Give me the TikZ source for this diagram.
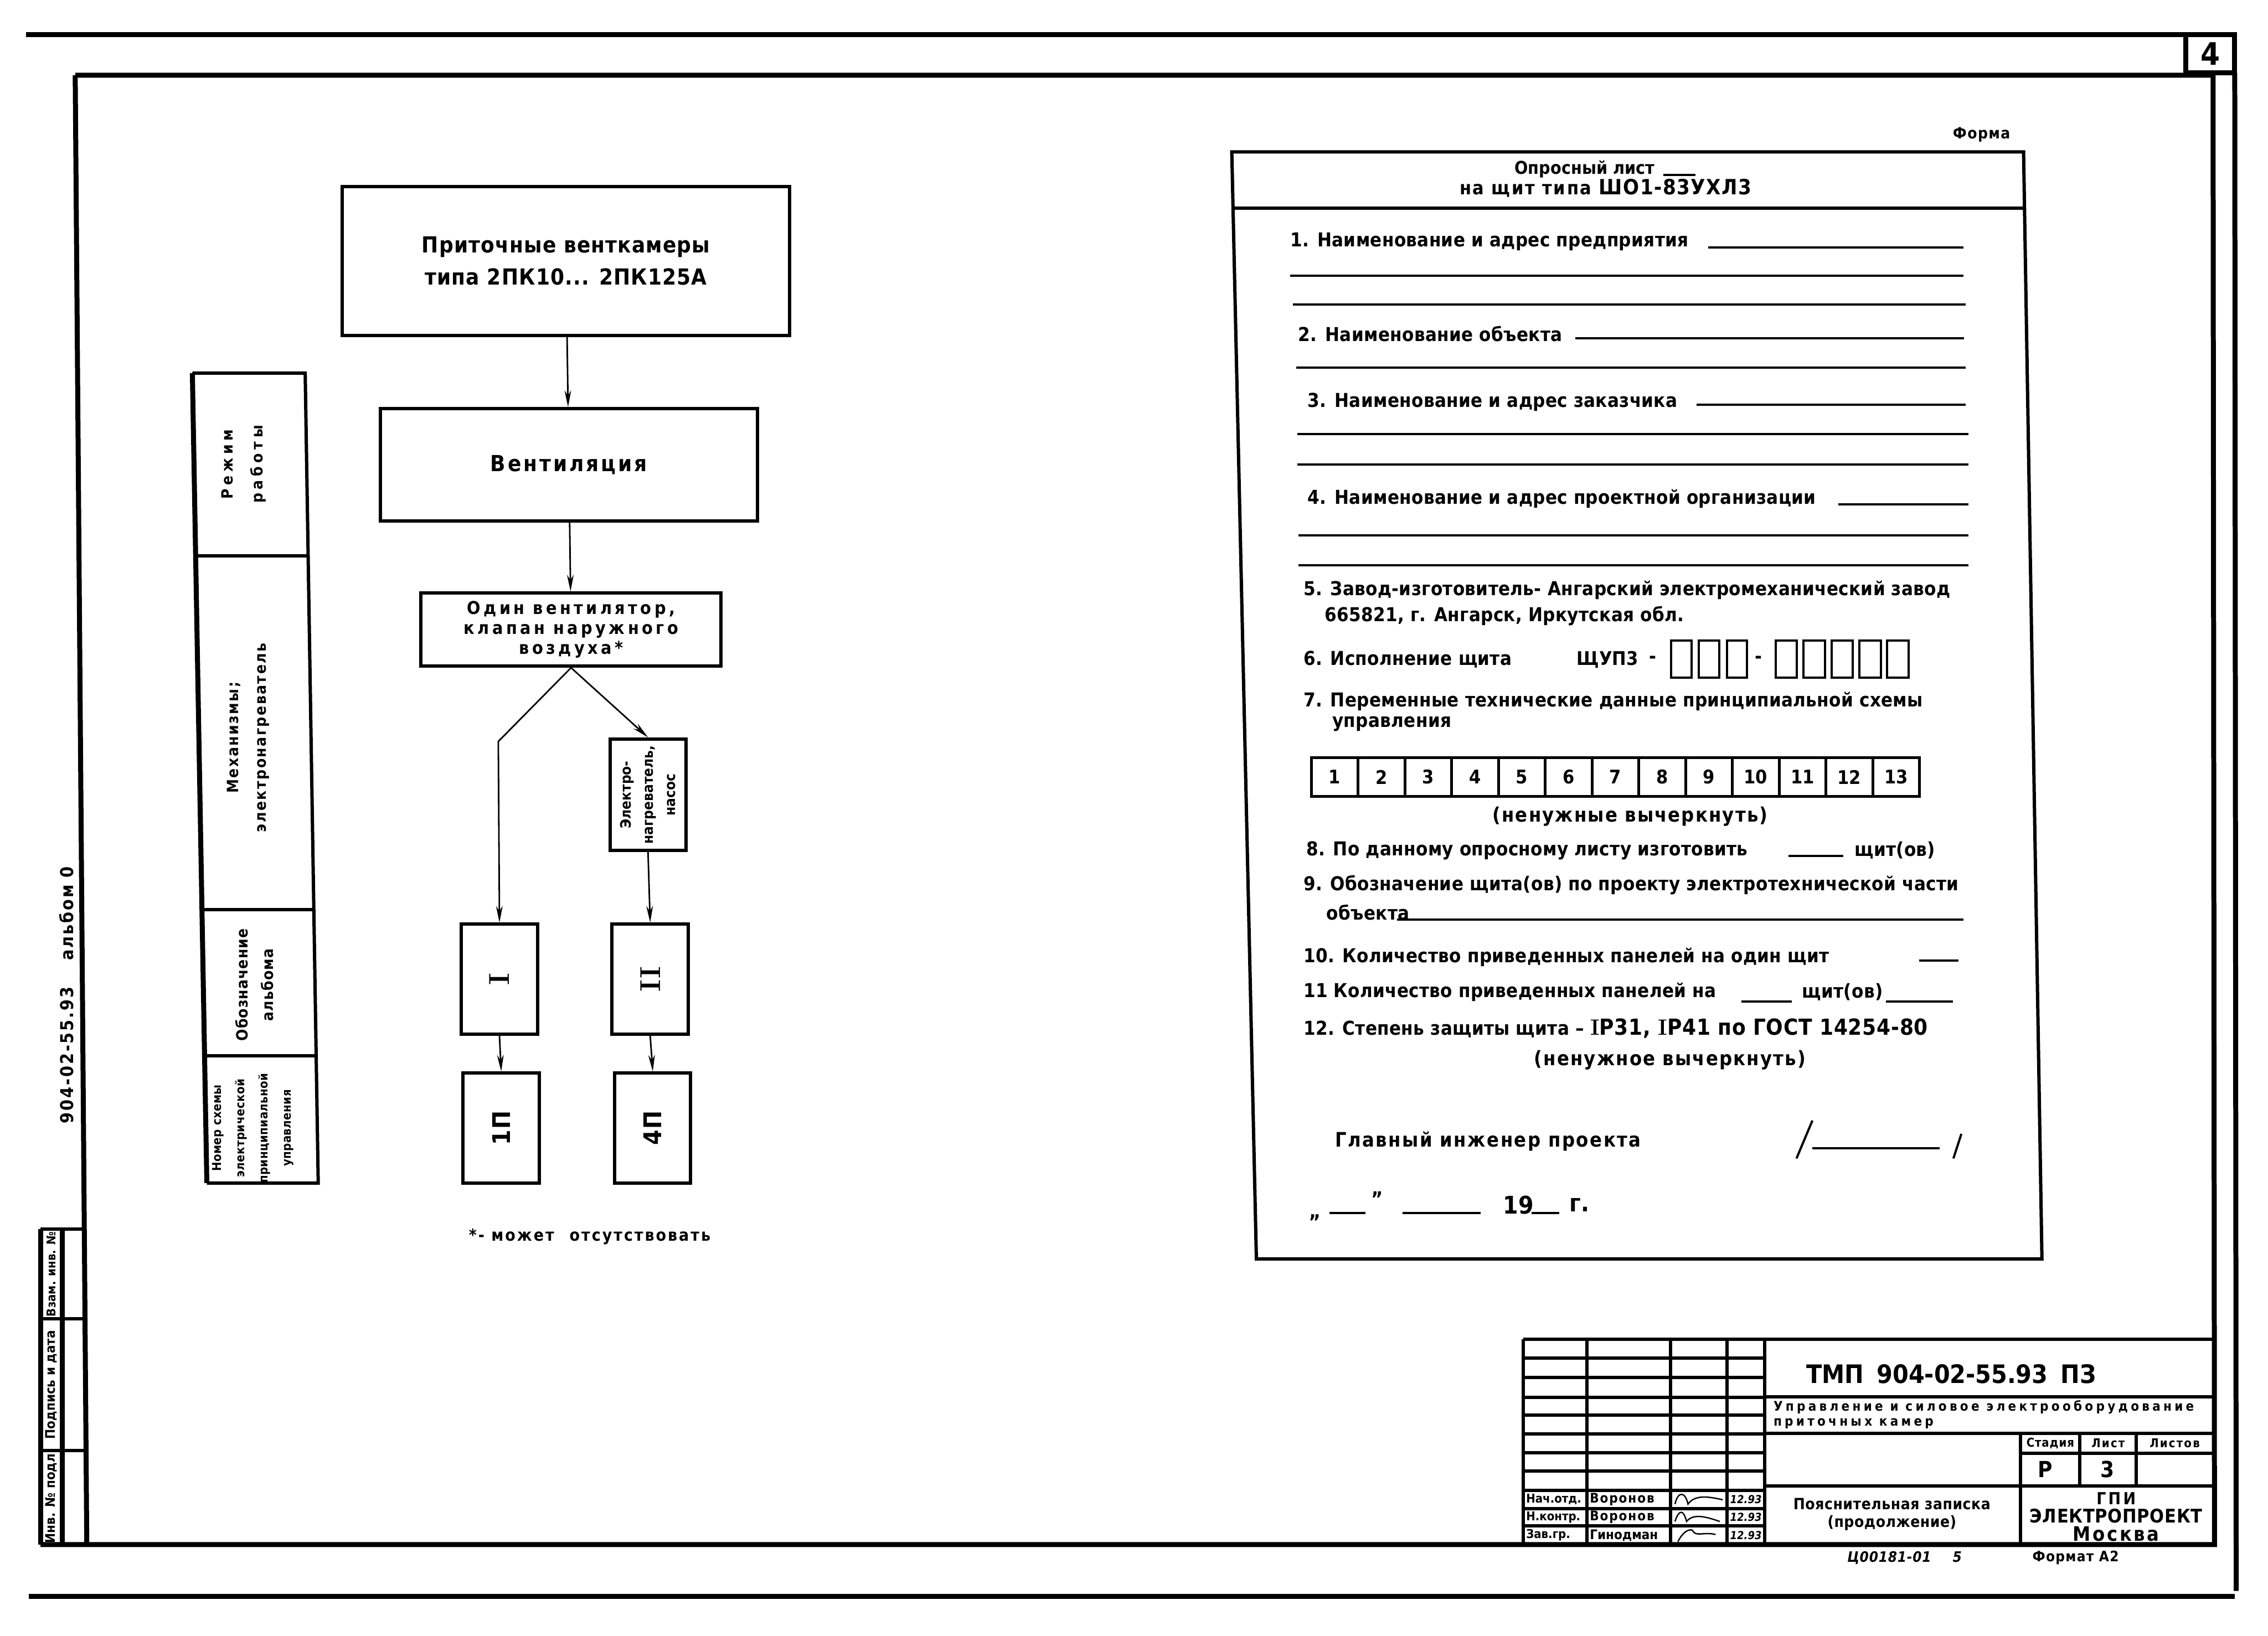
\documentclass[tikz,border=0pt]{standalone}
\usepackage{fontspec}
\usepackage{tikz}
\usetikzlibrary{arrows.meta}
\newfontfamily\hand{DejaVu Sans Condensed}
\newcommand\hw[3]{\hand\bfseries\fontsize{#1}{#2}\selectfont\addfontfeatures{LetterSpace=#3}}
\newlength\gu
\setlength\gu{0.04595cm}

\begin{document}
\begin{tikzpicture}[
    x=0.04595cm, y=-0.04595cm,
    frm/.style={line width=4.5pt},
    rule/.style={line width=3pt},
    ul/.style={line width=2pt},
    sig/.style={line width=1.2pt},
    box/.style={draw, line width=3pt, inner sep=0pt, align=center},
    arr/.style={line width=1.4pt, -{Stealth[length=15pt,width=6pt]}},
    txt/.style={inner sep=0pt, anchor=west, font=\hw{17.3}{20}{1}},
    rot/.style={rotate=90, inner sep=0pt, align=center}
]
\useasboundingbox (0,0) rectangle (1568,1131);

\draw[frm] (18,24) -- (1511,24);
\draw[frm] (1511,24) rectangle (1545,50.5);
\node[font=\hw{28}{30}{0}] (sheetno) at (1528,37) {4};
\draw[frm] (1545,50.5) -- (1546,1100);
\draw[frm] (20,1104) -- (1545,1104);
\draw[frm] (52,52) -- (1530,52) -- (1531,1068) -- (28,1068);
\draw[frm] (52,52) -- (60,1068);

\draw[frm] (28,850) -- (28,1068);
\draw[frm] (43,850) -- (43,1068);
\draw[rule] (28,850) -- (58,850);
\draw[rule] (28,912) -- (58.5,912);
\draw[rule] (28,1003) -- (59.3,1003);
\node[rot, font=\hw{11}{13}{0}] (stamp1) at (35.5,881) {Взам. инв. №};
\node[rot, font=\hw{12}{14}{0}] (stamp2) at (35.5,957.5) {Подпись и дата};
\node[rot, font=\hw{12}{14}{0}] (stamp3) at (35.5,1034.5) {Инв. № подл.};
\node[rot, font=\hw{16}{18}{9}] (albumno) at (46,688) {904-02-55.93\hspace{24pt}альбом 0};

\draw[rule] (133,258) -- (211,258) -- (220,818) -- (143,818);
\draw[frm] (133,258) -- (143,818);
\draw[rule] (135.3,384.5) -- (213,384.5);
\draw[rule] (139.6,629) -- (217,629);
\draw[rule] (141.4,730) -- (218.6,730);
\node[rot, font=\hw{14}{27}{24}] (regime) at (168.5,321) {Режим\\работы};
\node[rot, font=\hw{14}{25}{9}] (mech) at (171.5,510) {Механизмы;\\электронагреватель};
\node[rot, font=\hw{14}{23}{4}] (album) at (176,681) {Обозначение\\альбома};
\node[rot, font=\hw{11}{21}{2}] (scheme) at (175,780) {Номер схемы\\электрической\\принципиальной\\управления};

\node[box, minimum width=309.5\gu, minimum height=103\gu, font=\hw{20}{29}{3}] (vent) at (391.3,180.5) {Приточные венткамеры\\типа 2ПК10... 2ПК125А};
\node[box, minimum width=260.6\gu, minimum height=77.5\gu, font=\hw{20}{22}{10}] (mode) at (393.3,321.3) {Вентиляция};
\node[box, minimum width=207.6\gu, minimum height=50.5\gu, font=\hw{16}{18}{17}] (fan) at (394.8,435.3) {Один вентилятор,\\клапан наружного\\воздуха*};
\node[box, rotate=90, minimum width=77\gu, minimum height=52.5\gu, font=\hw{13}{20}{0}] (heater) at (448,549.5) {Электро-\\нагреватель,\\насос};
\node[box, rotate=90, minimum width=76\gu, minimum height=52.5\gu, font=\rmfamily\bfseries\fontsize{26}{28}\selectfont] (one) at (345.3,677) {I};
\node[box, rotate=90, minimum width=76\gu, minimum height=53\gu, font=\rmfamily\bfseries\fontsize{26}{28}\selectfont] (two) at (449.5,677) {II};
\node[box, rotate=90, minimum width=76\gu, minimum height=53\gu, font=\hw{22}{24}{4}] (p1) at (346.5,780) {1П};
\node[box, rotate=90, minimum width=76\gu, minimum height=52.5\gu, font=\hw{22}{24}{4}] (p4) at (451.3,780) {4П};
\coordinate (fork) at (344.5,512.7);

\draw[arr] (vent) -- (mode);
\draw[arr] (mode) -- (fan);
\draw[arr] (fan.south) -- (fork) -- (one.east);
\draw[arr] (fan.south) -- (heater.east);
\draw[arr] (heater.west) -- (two.east);
\draw[arr] (one.west) -- (p1.east);
\draw[arr] (two.west) -- (p4.east);
\node[txt, font=\hw{15}{17}{10}] (note) at (324,855) {*- может\hspace{14pt}отсутствовать};

\node[txt, font=\hw{14}{15}{5}] (form) at (1350,93) {Форма};
\draw[rule] (851.6,105) -- (1399,105) -- (1411.7,870.5) -- (868.6,870.5) -- cycle;
\draw[rule] (852.5,144) -- (1399.6,144);
\node[txt, font=\hw{16}{18}{0}] (sheet) at (1047,116.8) {Опросный лист};
\draw[ul] (1150,121) -- (1172,121);
\node[inner sep=0pt, font=\hw{17}{19}{8}] (panel) at (1110,130) {на щит типа {\hw{19}{21}{4}ШО1-83УХЛ3}};

\node[txt] (q1) at (892,167) {1. Наименование и адрес предприятия};
\draw[ul] (1181,171) -- (1357.6,171);
\draw[ul] (892,190.6) -- (1357.6,190.6);
\draw[ul] (894,210.6) -- (1359,210.6);
\node[txt] (q2) at (897.5,231) {2. Наименование объекта};
\draw[ul] (1089,234) -- (1358,234);
\draw[ul] (896,254) -- (1359,254);
\node[txt] (q3) at (904,278) {3. Наименование и адрес заказчика};
\draw[ul] (1173,280) -- (1359,280);
\draw[ul] (897,300) -- (1361,300);
\draw[ul] (897,321) -- (1361,321);
\node[txt] (q4) at (904,345) {4. Наименование и адрес проектной организации};
\draw[ul] (1271,348.6) -- (1361,348.6);
\draw[ul] (897.5,370) -- (1361,370);
\draw[ul] (897.5,390.8) -- (1361,390.8);
\node[txt] (q5) at (901,408) {5. Завод-изготовитель- Ангарский электромеханический завод};
\node[txt] (q5b) at (915.6,425.8) {665821, г. Ангарск, Иркутская обл.};
\node[txt] (q6) at (901,456) {6. Исполнение щита};
\node[txt, font=\hw{17}{19}{0}] (q6code) at (1090,456) {ЩУП3};
\node[txt] (q6d1) at (1140,456) {-};
\foreach \x in {1155.4,1174.6,1193.8}
    \draw[ul] (\x,443) rectangle ++(14,25.6);
\node[txt] (q6d2) at (1213,456) {-};
\foreach \x in {1227.6,1246.9,1266.2,1285.5,1304.8}
    \draw[ul] (\x,443) rectangle ++(14.8,25.6);
\node[txt] (q7) at (901,485) {7. Переменные технические данные принципиальной схемы};
\node[txt] (q7b) at (921,500.6) {управления};
\foreach \i in {1,...,13}
    \node[draw, line width=2.5pt, inner sep=0pt, minimum width=32.35\gu, minimum height=26.6\gu, font=\hw{17}{19}{0}] (cell\i) at ({906.5+32.35*(\i-0.5)},537.3) {\i};
\node[inner sep=0pt, font=\hw{18}{21}{6}] (strike1) at (1127,564.7) {(ненужные вычеркнуть)};
\node[txt] (q8) at (903,588) {8. По данному опросному листу изготовить};
\draw[ul] (1236.6,592) -- (1274.4,592);
\node[txt] (q8b) at (1282,588) {щит(ов)};
\node[txt] (q9) at (901,612) {9. Обозначение щита(ов) по проекту электротехнической части};
\node[txt] (q9b) at (917,630.7) {объекта};
\draw[ul] (966,635.7) -- (1357.6,635.7);
\node[txt] (q10) at (901,662) {10. Количество приведенных панелей на один щит};
\draw[ul] (1327,664) -- (1354,664);
\node[txt] (q11) at (901,686) {11 Количество приведенных панелей на};
\draw[ul] (1204,692.5) -- (1238.6,692.5);
\node[txt] (q11b) at (1245.7,686) {щит(ов)};
\draw[ul] (1304,692.5) -- (1350,692.5);
\node[txt] (q12) at (901,711) {12. Степень защиты щита – {\hw{20}{22}{2}{\rmfamily I}P31, {\rmfamily I}P41 по ГОСТ 14254-80}};
\node[inner sep=0pt, font=\hw{18}{21}{6}] (strike2) at (1154.5,733) {(ненужное вычеркнуть)};
\node[txt, font=\hw{18}{21}{7}] (chief) at (922.8,789) {Главный инженер проекта};
\draw[ul] (1253,774.8) -- (1242,801);
\draw[ul] (1253,794) -- (1341,794);
\draw[ul] (1356,784) -- (1350.5,801);
\node[txt, font=\hw{18}{20}{0}] (dq1) at (905,842) {„};
\draw[ul] (919,838.6) -- (944,838.6);
\node[txt, font=\hw{18}{20}{0}] (dq2) at (948,829) {”};
\draw[ul] (969.5,838.6) -- (1023.7,838.6);
\node[txt, font=\hw{22}{24}{0}] (year) at (1039,833) {19};
\draw[ul] (1058.8,838.6) -- (1078,838.6);
\node[txt, font=\hw{22}{24}{0}] (yearg) at (1085,833) {г.};

\foreach \y in {926,939.2,952.6,966.2,978.4,991.6,1004.6,1017,1030.6,1043,1054.9}
    \draw[rule] (1053,\y) -- (1220,\y);
\foreach \x in {1053,1097,1155,1194,1220}
    \draw[rule] (\x,926) -- (\x,1068);
\draw[rule] (1220,926) -- (1530,926);
\draw[rule] (1220,966) -- (1530,966);
\draw[rule] (1220,991) -- (1530,991);
\draw[rule] (1397,1005) -- (1530,1005);
\draw[rule] (1220,1027.6) -- (1530,1027.6);
\draw[rule] (1397,991) -- (1397,1068);
\draw[rule] (1438,991) -- (1438,1027.6);
\draw[rule] (1477,991) -- (1477,1027.6);

\node[txt, font=\hw{11}{13}{0}] (r1a) at (1055,1036.8) {Нач.отд.};
\node[txt, font=\hw{11}{13}{0}] (r2a) at (1055,1049) {Н.контр.};
\node[txt, font=\hw{11}{13}{0}] (r3a) at (1055,1061.5) {Зав.гр.};
\node[txt, font=\hw{12}{13}{8}] (r1b) at (1099,1036.8) {Воронов};
\node[txt, font=\hw{12}{13}{8}] (r2b) at (1099,1049) {Воронов};
\node[txt, font=\hw{12}{13}{0}] (r3b) at (1099,1061.5) {Гинодман};
\node[txt, font=\hw{10}{11}{0}\itshape] (r1d) at (1196,1036.8) {12.93};
\node[txt, font=\hw{10}{11}{0}\itshape] (r2d) at (1196,1049) {12.93};
\node[txt, font=\hw{10}{11}{0}\itshape] (r3d) at (1196,1061.5) {12.93};
\draw[sig] (1158,1040) .. controls (1160,1031) and (1165,1031) .. (1167,1040) .. controls (1172,1033) and (1182,1035) .. (1191,1037);
\draw[sig] (1158,1052) .. controls (1161,1043) and (1164,1044) .. (1166,1052) .. controls (1171,1046) and (1180,1049) .. (1189,1052);
\draw[sig] (1160,1066) .. controls (1163,1060) and (1167,1057) .. (1170,1058) .. controls (1172,1063) and (1178,1059) .. (1186,1061);

\node[font=\hw{23}{25}{0}] (code) at (1349,950) {ТМП\enspace 904-02-55.93\enspace ПЗ};
\node[anchor=north west, align=left, inner sep=0pt, font=\hw{12}{13.5}{22}] (topic) at (1226,968) {Управление и силовое электрооборудование\\приточных камер};
\node[font=\hw{11}{12}{4}] (stage) at (1417.5,998) {Стадия};
\node[font=\hw{11}{12}{10}] (sheet2) at (1457.5,998) {Лист};
\node[font=\hw{11}{12}{10}] (sheets) at (1503.5,998) {Листов};
\node[font=\hw{20}{22}{0}] (stageval) at (1414,1016) {Р};
\node[font=\hw{20}{22}{0}] (sheetval) at (1457,1016) {3};
\node[align=center, font=\hw{14}{15.7}{2}] (doc) at (1308,1047) {Пояснительная записка\\(продолжение)};
\node[font=\hw{15}{16}{14}] (gpi) at (1463,1036) {ГПИ};
\node[font=\hw{17}{18}{2}] (ep) at (1463,1048) {ЭЛЕКТРОПРОЕКТ};
\node[font=\hw{18}{19}{10}] (msk) at (1463,1060.5) {Москва};

\node[txt, font=\hw{13}{14}{3}\itshape] (inv) at (1277,1077) {Ц00181-01\hspace{1.5em}5};
\node[txt, font=\hw{13}{14}{5}] (fmt) at (1405,1077) {Формат А2};
\end{tikzpicture}
\end{document}
